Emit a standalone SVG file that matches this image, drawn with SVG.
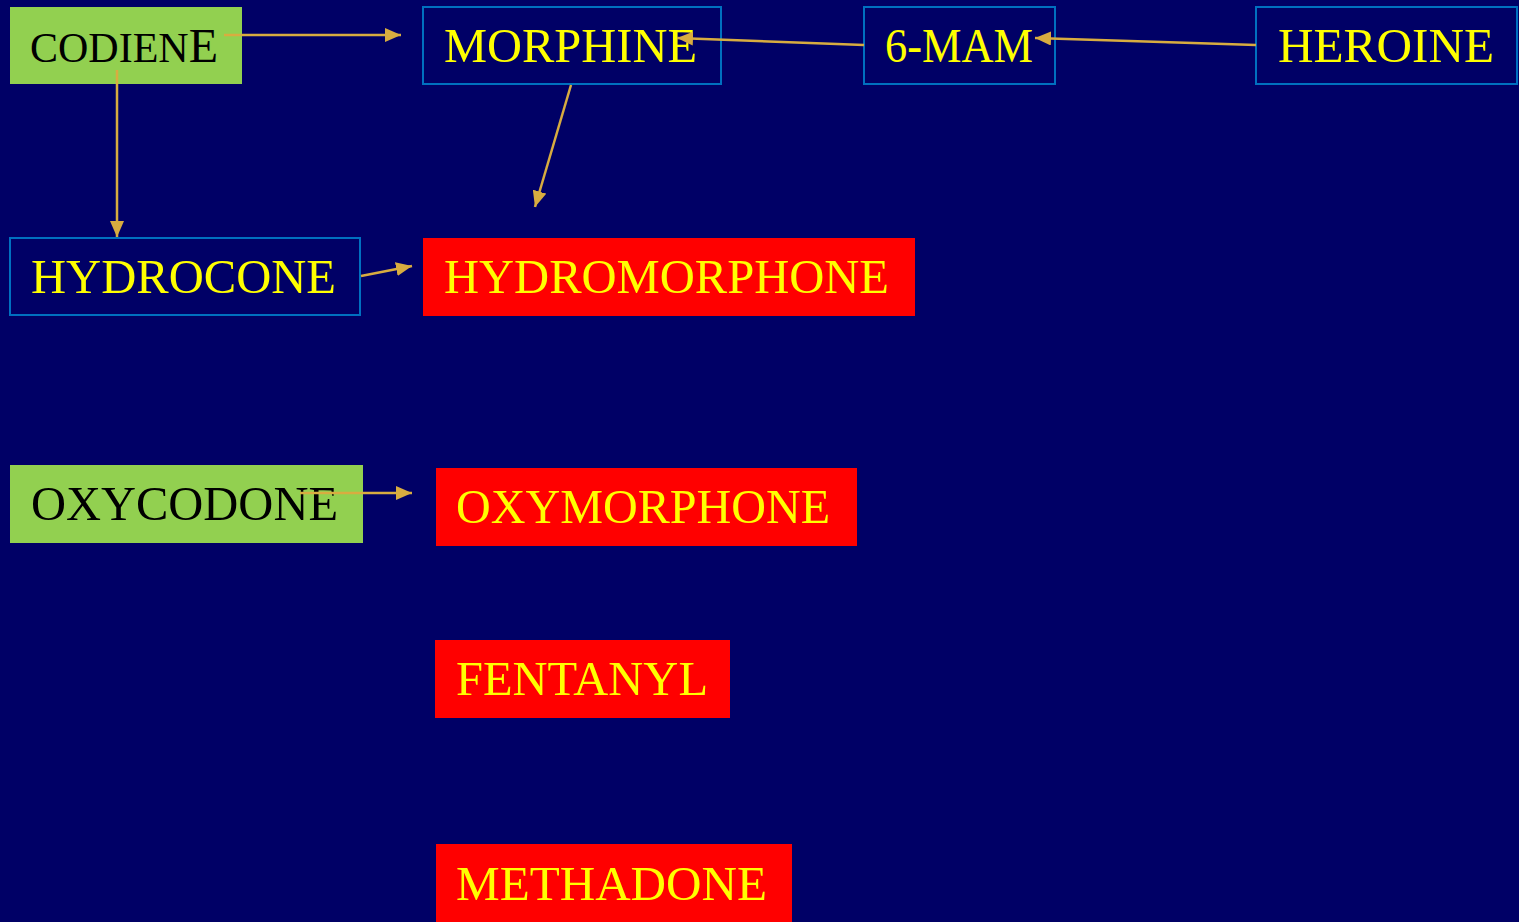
<svg xmlns="http://www.w3.org/2000/svg" width="1519" height="922" viewBox="0 0 1519 922">
  <defs>
    <marker id="arrow" viewBox="0 0 16 14" refX="16" refY="7" markerWidth="16" markerHeight="14" markerUnits="userSpaceOnUse" orient="auto">
      <path d="M0,0 L16,7 L0,14 z" fill="#D8AC40"/>
    </marker>
    <style>
      .lbl { font-family: "Liberation Serif", "Times New Roman", serif; font-size: 48px; }
      .yellow { fill: #FFFF00; }
      .dark { fill: #000000; }
      .outline { fill: #000066; stroke: #0070C0; stroke-width: 2; }
      .green { fill: #92D050; }
      .red { fill: #FF0000; }
      .conn { stroke: #D8AC40; stroke-width: 2.5; fill: none; marker-end: url(#arrow); }
    </style>
  </defs>

  <rect width="1519" height="922" fill="#000066"/>

  <g id="codiene">
    <rect class="green" x="10" y="7" width="232" height="77"/>
    <text class="lbl dark" x="30" y="62" textLength="188" lengthAdjust="spacingAndGlyphs"><tspan font-size="42">CODIEN</tspan>E</text>
  </g>
  <g id="morphine">
    <rect class="outline" x="423" y="7" width="298" height="77"/>
    <text class="lbl yellow" x="444" y="62" textLength="253" lengthAdjust="spacingAndGlyphs">MORPHINE</text>
  </g>
  <g id="mam6">
    <rect class="outline" x="864" y="7" width="191" height="77"/>
    <text class="lbl yellow" x="885" y="62" textLength="148" lengthAdjust="spacingAndGlyphs">6-MAM</text>
  </g>
  <g id="heroine">
    <rect class="outline" x="1256" y="7" width="261" height="77"/>
    <text class="lbl yellow" x="1278" y="62" textLength="216" lengthAdjust="spacingAndGlyphs">HEROINE</text>
  </g>
  <g id="hydrocone">
    <rect class="outline" x="10" y="238" width="350" height="77"/>
    <text class="lbl yellow" x="31" y="293" textLength="305" lengthAdjust="spacingAndGlyphs">HYDROCONE</text>
  </g>
  <g id="hydromorphone">
    <rect class="red" x="423" y="238" width="492" height="78"/>
    <text class="lbl yellow" x="444" y="293" textLength="445" lengthAdjust="spacingAndGlyphs">HYDROMORPHONE</text>
  </g>
  <g id="oxycodone">
    <rect class="green" x="10" y="465" width="353" height="78"/>
    <text class="lbl dark" x="31" y="520" textLength="307" lengthAdjust="spacingAndGlyphs">OXYCODONE</text>
  </g>
  <g id="oxymorphone">
    <rect class="red" x="436" y="468" width="421" height="78"/>
    <text class="lbl yellow" x="456" y="523" textLength="374" lengthAdjust="spacingAndGlyphs">OXYMORPHONE</text>
  </g>
  <g id="fentanyl">
    <rect class="red" x="435" y="640" width="295" height="78"/>
    <text class="lbl yellow" x="456" y="695" textLength="252" lengthAdjust="spacingAndGlyphs">FENTANYL</text>
  </g>
  <g id="methadone">
    <rect class="red" x="436" y="844" width="356" height="78"/>
    <text class="lbl yellow" x="456" y="900" textLength="311" lengthAdjust="spacingAndGlyphs">METHADONE</text>
  </g>

  <g id="connectors">
    <line class="conn" x1="224" y1="35" x2="401" y2="35"/>
    <line class="conn" x1="117" y1="70" x2="117" y2="237"/>
    <line class="conn" x1="864" y1="45" x2="677" y2="38"/>
    <line class="conn" x1="1256" y1="45" x2="1035" y2="38"/>
    <line class="conn" x1="571" y1="85" x2="535" y2="207"/>
    <line class="conn" x1="361" y1="276" x2="412" y2="266"/>
    <line class="conn" x1="300" y1="493" x2="412" y2="493"/>
  </g>
</svg>
